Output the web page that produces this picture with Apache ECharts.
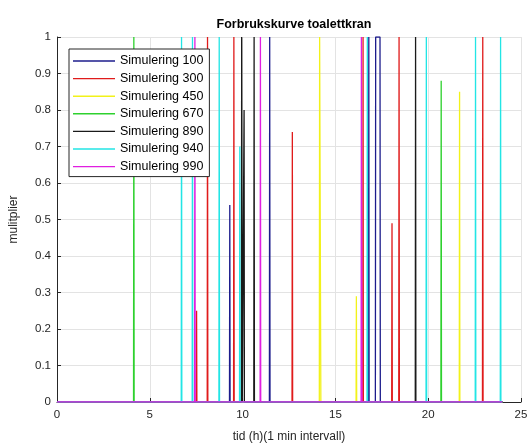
<!DOCTYPE html>
<html>
<head>
<meta charset="utf-8">
<title>Forbrukskurve toalettkran</title>
<script src="https://cdn.jsdelivr.net/npm/echarts@6/dist/echarts.min.js"></script>
<style>
  html, body { margin: 0; padding: 0; background: #ffffff; }
  #chart { width: 531px; height: 448px; }
</style>
</head>
<body>
<div id="chart"></div>
<script>
// Tap events per simulation: [start hour, multiplier, duration in minutes]
const sim100 = [[9.31, 0.54, 1], [11.46, 1, 1], [16.80, 1, 1], [17.17, 1, 15]];
const sim300 = [[7.52, 0.25, 1], [8.11, 1, 1], [9.53, 1, 1], [12.68, 0.74, 1], [16.49, 1, 1], [18.05, 0.49, 1], [18.43, 1, 1], [22.94, 1, 1]];
const sim450 = [[14.15, 1, 4], [16.13, 0.29, 1], [21.69, 0.85, 1]];
const sim670 = [[4.14, 1, 1], [20.70, 0.88, 1]];
const sim890 = [[9.95, 1, 2], [10.08, 0.80, 1], [10.62, 1, 1], [19.32, 1, 1]];
const sim940 = [[6.71, 1, 1], [7.30, 1, 1], [8.74, 1, 1], [9.85, 0.70, 1], [16.72, 1, 1], [19.90, 1, 1], [22.55, 1, 1], [23.90, 1, 1]];
const sim990 = [[7.43, 1, 1], [10.96, 1, 1], [16.40, 1, 2]];

const seriesNames = ['Simulering 100', 'Simulering 300', 'Simulering 450', 'Simulering 670', 'Simulering 890', 'Simulering 940', 'Simulering 990'];
const seriesEvents = [sim100, sim300, sim450, sim670, sim890, sim940, sim990];
const seriesColors = ['#1c1c8c', '#e01b1b', '#f2f21a', '#2ed12e', '#1a1a1a', '#22e5e5', '#e01ee0'];

const xTicks = { min: 0, max: 25, interval: 5 };
const yTicks = { min: 0, max: 1, interval: 0.1 };
const dayHours = 24;
const step = 1 / 60; // one-minute sampling

// Turn the event list into a one-minute step profile (zero between events)
function profile(events) {
  const pts = [[0, 0]];
  events.slice().sort((a, b) => a[0] - b[0]).forEach(([t, v, d]) => {
    const end = t + (d - 1) * step;
    pts.push([t - step, 0], [t, v]);
    if (d > 1) pts.push([end, v]);
    pts.push([end + step, 0]);
  });
  pts.push([dayHours, 0]);
  return pts;
}

const font = 'Liberation Sans, Arial, Helvetica, sans-serif';
const axisColor = '#262626';

const chart = echarts.init(document.getElementById('chart'), null, { renderer: 'canvas' });
chart.setOption({
  animation: false,
  backgroundColor: '#ffffff',
  title: {
    text: 'Forbrukskurve toalettkran',
    left: 289,
    top: 13,
    textAlign: 'center',
    textStyle: { fontFamily: font, fontSize: 12.5, fontWeight: 'bold', color: '#000000' }
  },
  grid: { left: 57, right: 10, top: 37, bottom: 45, containLabel: false },
  legend: {
    orient: 'vertical',
    left: 69,
    top: 49,
    data: seriesNames,
    icon: 'rect',
    backgroundColor: '#ffffff',
    borderColor: axisColor,
    borderWidth: 1,
    borderRadius: 0,
    padding: [5, 6, 3, 4],
    itemWidth: 42,
    itemHeight: 1.4,
    itemGap: 3.6,
    textStyle: { fontFamily: font, fontSize: 12.5, color: '#000000', lineHeight: 14 },
    z: 10
  },
  xAxis: {
    type: 'value',
    min: xTicks.min,
    max: xTicks.max,
    interval: xTicks.interval,
    name: 'tid (h)(1 min intervall)',
    nameLocation: 'middle',
    nameGap: 29,
    nameTextStyle: { fontFamily: font, fontSize: 12, color: axisColor },
    axisLine: { onZero: false, lineStyle: { color: axisColor, width: 1 } },
    axisTick: { inside: true, length: 4, lineStyle: { color: axisColor } },
    axisLabel: { fontFamily: font, fontSize: 11.5, color: axisColor, margin: 7 },
    splitLine: { show: true, lineStyle: { color: '#e3e3e3', width: 1 } }
  },
  yAxis: {
    type: 'value',
    min: yTicks.min,
    max: yTicks.max,
    interval: yTicks.interval,
    name: 'mulitplier',
    nameLocation: 'middle',
    nameGap: 37,
    nameRotate: 90,
    nameTextStyle: { fontFamily: font, fontSize: 12, color: axisColor },
    axisLine: { show: true, onZero: false, lineStyle: { color: axisColor, width: 1 } },
    axisTick: { show: true, inside: true, length: 4, lineStyle: { color: axisColor } },
    axisLabel: { fontFamily: font, fontSize: 11.5, color: axisColor, margin: 6 },
    splitLine: { show: true, lineStyle: { color: '#e3e3e3', width: 1 } }
  },
  series: seriesNames.map((name, i) => ({
    name: name,
    type: 'line',
    data: profile(seriesEvents[i]),
    symbol: 'none',
    showSymbol: false,
    clip: true,
    color: seriesColors[i],
    lineStyle: { color: seriesColors[i], width: 1.3 },
    emphasis: { disabled: true }
  }))
});
</script>
</body>
</html>
